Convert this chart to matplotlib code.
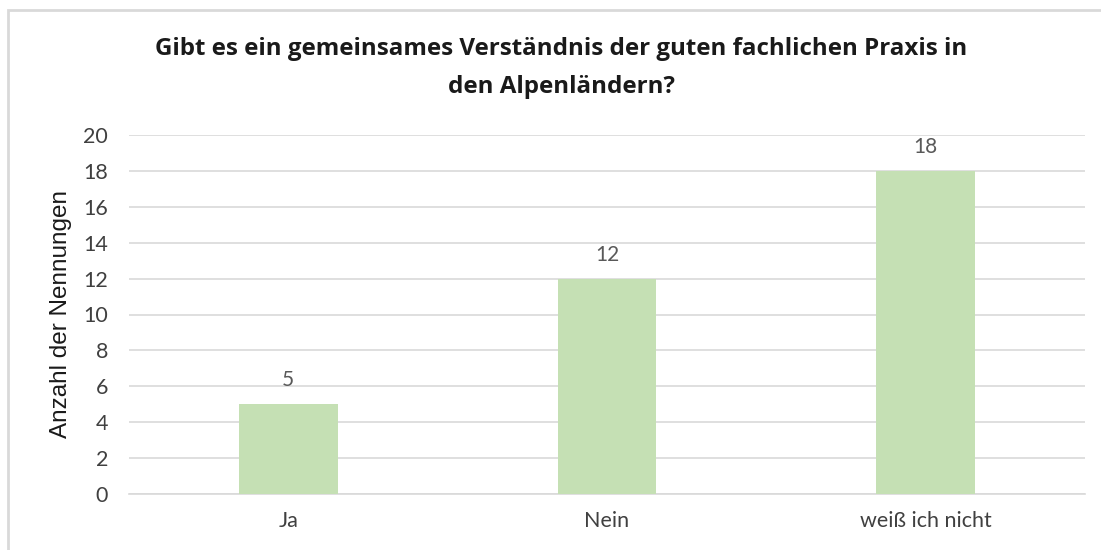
import matplotlib.pyplot as plt
from matplotlib.patches import Rectangle

# Data
categories = ['Ja', 'Nein', 'weiß ich nicht']
counts = [5, 12, 18]
yticks = [0, 2, 4, 6, 8, 10, 12, 14, 16, 18, 20]

plt.rcParams['font.family'] = ['Lato', 'DejaVu Sans']

fig = plt.figure(figsize=(11.01, 5.5), dpi=100)
ax = fig.add_axes([129/1101, 56/550, 956/1101, 359/550])

x = range(len(categories))
bars = ax.bar(x, counts, width=0.31, color='#C5E0B4', zorder=3)

# value labels above the bars
for xi, v in zip(x, counts):
    ax.annotate(str(v), (xi, v), xytext=(0, 10), textcoords='offset points',
                ha='center', va='bottom', fontsize=15, color='#595959')

ax.set_xlim(-0.5, len(categories) - 0.5)
ax.set_ylim(0, 20)
ax.set_yticks(yticks)
ax.set_xticks(list(x))
ax.set_xticklabels(categories)
ax.yaxis.grid(True, color='#D9D9D9', linewidth=1.2, zorder=0)
ax.set_axisbelow(True)
for s in ['top', 'right', 'left']:
    ax.spines[s].set_visible(False)
ax.spines['bottom'].set_color('#D9D9D9')
ax.spines['bottom'].set_linewidth(1.2)
ax.tick_params(axis='both', length=0, labelsize=15.5, labelcolor='#404040')
ax.tick_params(axis='y', pad=15)
ax.tick_params(axis='x', pad=12)
ax.set_ylabel('Anzahl der Nennungen', fontsize=17.5, color='#1a1a1a', labelpad=8,
              family=['Liberation Sans', 'DejaVu Sans'])

fig.text(561/1101, 1 - 68/550, 'Gibt es ein gemeinsames Verständnis der guten fachlichen Praxis in\nden Alpenländern?',
         ha='center', va='center', fontsize=17.4, fontweight='bold', color='#1a1a1a',
         linespacing=1.8, family=['Open Sans', 'DejaVu Sans'])

# light chart border like the Excel chart area
fig.patches.append(Rectangle((8/1101, -0.05), 1.0, 1 - 10/550 + 0.05, transform=fig.transFigure,
                             fill=False, edgecolor='#D9D9D9', linewidth=2))

fig.savefig('out.png', dpi=100)
